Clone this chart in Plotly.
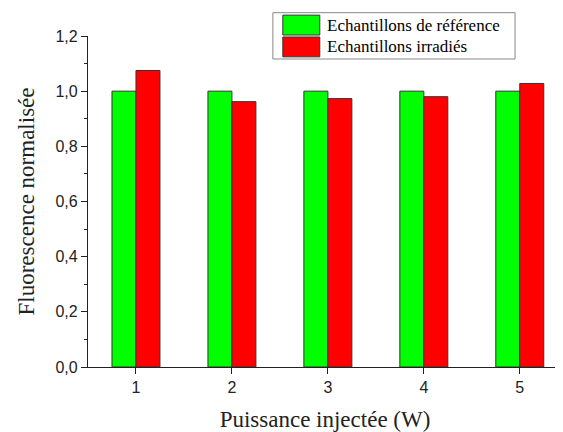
import plotly.graph_objects as go

categories = [1, 2, 3, 4, 5]
reference_values = [1.0, 1.0, 1.0, 1.0, 1.0]
irradiated_values = [1.075, 0.962, 0.973, 0.980, 1.028]
series_names = ["Echantillons de référence", "Echantillons irradiés"]
y_ticks = [0.0, 0.2, 0.4, 0.6, 0.8, 1.0, 1.2]

GREEN = "#00FF00"
RED = "#FF0000"
EDGE = "#333333"
SERIF = "Liberation Serif, Times New Roman, serif"
SANS = "Liberation Sans, Arial, sans-serif"

fig = go.Figure()
fig.add_trace(go.Bar(x=categories, y=reference_values, name=series_names[0],
                     marker=dict(color=GREEN, line=dict(color=EDGE, width=1)),
                     showlegend=False))
fig.add_trace(go.Bar(x=categories, y=irradiated_values, name=series_names[1],
                     marker=dict(color=RED, line=dict(color=EDGE, width=1)),
                     showlegend=False))

# Manual legend (box with large swatches, as in the reference)
lx0, lx1 = 0.390, 0.901
ly_top, ly_bot = 1.0704, 0.9305
fig.add_shape(type="rect", xref="paper", yref="paper", x0=lx0, x1=lx1, y0=ly_bot, y1=ly_top,
              line=dict(color="#888888", width=1), fillcolor="white")
rows = [(series_names[0], GREEN, 1.033), (series_names[1], RED, 0.967)]
for name, col, yc in rows:
    fig.add_shape(type="rect", xref="paper", yref="paper",
                  x0=0.411, x1=0.489, y0=yc - 0.030, y1=yc + 0.030,
                  line=dict(color=EDGE, width=1), fillcolor=col)
    fig.add_annotation(x=0.500, y=yc, xref="paper", yref="paper", text=name,
                       showarrow=False, xanchor="left", yanchor="middle",
                       font=dict(family=SERIF, size=17, color="black"))

fig.update_layout(
    width=555, height=424,
    margin=dict(l=80, r=1, t=28, b=65, autoexpand=False),
    paper_bgcolor="white", plot_bgcolor="white",
    barmode="group", bargap=0.5, bargroupgap=0,
    separators=", ",
    xaxis=dict(range=[0.5, 5.44], tickvals=categories, ticktext=[str(c) for c in categories],
               ticks="outside", ticklen=6, tickwidth=1.3, tickcolor="#222",
               showline=True, linecolor="#222", linewidth=1.3, showgrid=False, zeroline=False,
               tickfont=dict(family=SANS, size=16, color="#222"), automargin=False,
               title=dict(text="Puissance injectée (W)", font=dict(family=SERIF, size=23, color="#222"),
                          standoff=18)),
    yaxis=dict(range=[0, 1.2], tickvals=y_ticks, tickformat=".1f",
               ticks="outside", ticklen=6, tickwidth=1.3, tickcolor="#222",
               minor=dict(dtick=0.1, ticks="outside", ticklen=3, tickwidth=1.3, tickcolor="#222"),
               showline=True, linecolor="#222", linewidth=1.3, showgrid=False, zeroline=False,
               tickfont=dict(family=SANS, size=16, color="#222"), automargin=False,
               title=dict(text="Fluorescence normalisée", font=dict(family=SERIF, size=23, color="#222"),
                          standoff=14)),
)

fig.write_html("out.html")
